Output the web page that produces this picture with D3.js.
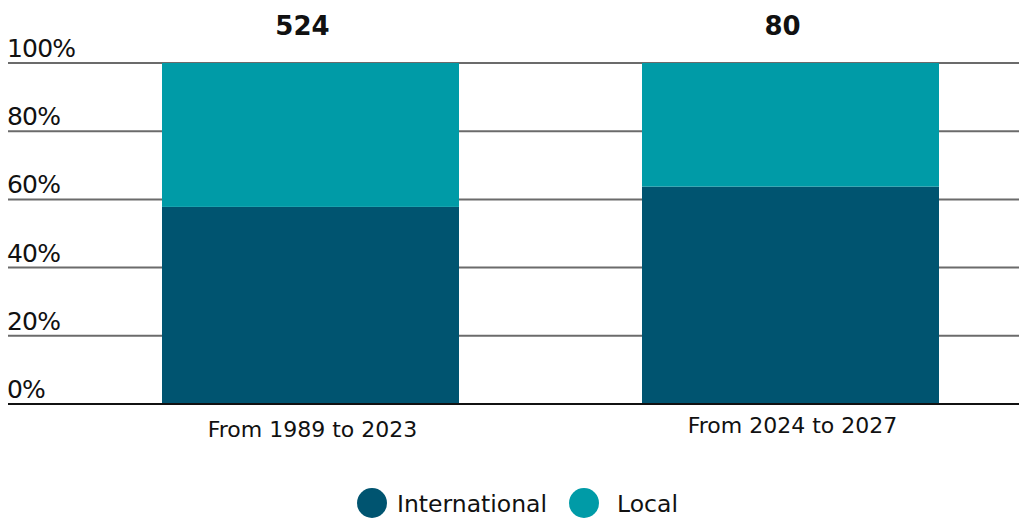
<!DOCTYPE html>
<html><head><meta charset="utf-8">
<script src="https://cdn.jsdelivr.net/npm/d3@7"></script>
<style>body{margin:0;background:#fff;} svg{display:block;font-family:"DejaVu Sans", sans-serif;}</style>
</head><body>
<svg id="c" width="1019" height="518"></svg>
<script>
const categories = ["From 1989 to 2023", "From 2024 to 2027"];
const totals = [524, 80];
const international = [57.8, 63.75];
const local = [42.2, 36.25];
const seriesNames = ["International", "Local"];
const seriesColors = ["#005470", "#009BA7"];
const yTicks = [0, 20, 40, 60, 80, 100];

const svg = d3.select("#c");
const x = d3.scaleBand().domain(categories).range([162, 939]).paddingInner(0.38125).paddingOuter(0);
const y = d3.scaleLinear().domain([0, 100]).range([404, 63]);
const bw = x.bandwidth();

// gridlines
svg.append("g").selectAll("line").data(yTicks.filter(d => d > 0)).join("line")
  .attr("x1", 8).attr("x2", 1019).attr("y1", d => y(d)).attr("y2", d => y(d))
  .attr("stroke", "#6b6b6b").attr("stroke-width", 2);

// tick labels
svg.append("g").selectAll("text").data(yTicks).join("text")
  .attr("x", 7).attr("y", d => y(d) - 6)
  .attr("font-size", 25).attr("letter-spacing", -0.8).attr("fill", "#111")
  .text(d => d + "%");

const series = d3.stack().keys([0, 1]).value((d, k) => d[k])(categories.map((c, i) => [international[i], local[i]]));
svg.append("g").selectAll("g").data(series).join("g")
  .attr("fill", (d, k) => seriesColors[k])
  .selectAll("rect").data(d => d).join("rect")
  .attr("x", (d, i) => x(categories[i])).attr("width", bw)
  .attr("y", d => y(d[1])).attr("height", d => y(d[0]) - y(d[1]));

// baseline
svg.append("line").attr("x1", 8).attr("x2", 1019).attr("y1", y(0)).attr("y2", y(0))
  .attr("stroke", "#111").attr("stroke-width", 2);

// totals
svg.append("g").selectAll("text").data(categories).join("text")
  .attr("x", d => x(d) + bw / 2 - 8).attr("y", 35)
  .attr("text-anchor", "middle").attr("font-size", 26).attr("font-weight", 700).attr("fill", "#111")
  .text((d, i) => totals[i]);

// category labels
svg.append("g").selectAll("text").data(categories).join("text")
  .attr("x", d => x(d) + bw / 2 + 2).attr("y", (d, i) => i === 0 ? 437 : 433)
  .attr("text-anchor", "middle").attr("font-size", 22).attr("fill", "#111")
  .text(d => d);

// legend
const lg = svg.append("g");
const lx = [372, 584];
seriesNames.forEach((n, k) => {
  lg.append("circle").attr("cx", lx[k]).attr("cy", 503).attr("r", 15).attr("fill", seriesColors[k]);
  lg.append("text").attr("x", lx[k] + 25 + (k === 1 ? 8 : 0)).attr("y", 512).attr("font-size", 23.5).attr("fill", "#111").text(n);
});
</script>
</body></html>
